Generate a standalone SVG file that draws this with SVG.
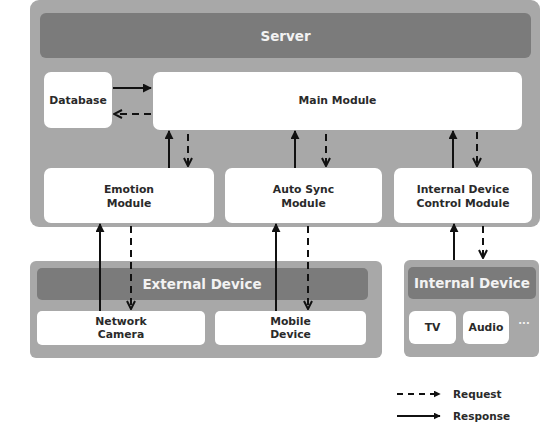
<svg xmlns="http://www.w3.org/2000/svg" width="542" height="442" viewBox="0 0 542 442">
<style>
.outer{fill:#a8a8a8;}
.head{fill:#7b7b7b;}
.box{fill:#ffffff;}
.ht{font-family:"DejaVu Sans",sans-serif;font-weight:bold;fill:#f2f2f2;text-anchor:middle;}
.t{font-family:"DejaVu Sans",sans-serif;font-weight:bold;font-size:10.8px;fill:#2a2a2a;text-anchor:middle;}
.lt{font-family:"DejaVu Sans",sans-serif;font-weight:bold;font-size:10.5px;fill:#2a2a2a;}
.sol{stroke:#111;stroke-width:2;fill:none;marker-end:url(#fh);}
.dsh{stroke:#111;stroke-width:2;fill:none;stroke-dasharray:7 5;marker-end:url(#oh);}
</style>
<defs>
<marker id="fh" viewBox="0 0 10 10" refX="9" refY="5" markerWidth="4.5" markerHeight="4.5" orient="auto" markerUnits="strokeWidth">
<path d="M0,0 L10,5 L0,10 z" fill="#111"/>
</marker>
<marker id="oh" viewBox="0 0 10 10" refX="9" refY="5" markerWidth="5" markerHeight="5" orient="auto" markerUnits="strokeWidth">
<path d="M1,1 L9,5 L1,9" fill="none" stroke="#111" stroke-width="2"/>
</marker>
<marker id="fh2" viewBox="0 0 10 10" refX="9" refY="5" markerWidth="3.5" markerHeight="3.5" orient="auto" markerUnits="strokeWidth">
<path d="M0,0 L10,5 L0,10 z" fill="#111"/>
</marker>
</defs>
<rect width="542" height="442" fill="#ffffff"/>

<g id="server">
<rect class="outer" x="30" y="0" width="510" height="227" rx="9"/>
<rect class="head" x="40" y="13" width="491" height="45" rx="6"/>
<text class="ht" x="285.5" y="40.5" font-size="13.5">Server</text>
</g>
<g id="database">
<rect class="box" x="44" y="72" width="68" height="56" rx="7"/>
<text class="t" x="78" y="104">Database</text>
</g>
<g id="main-module">
<rect class="box" x="153" y="72" width="369" height="58" rx="7"/>
<text class="t" x="337.5" y="104">Main Module</text>
</g>
<g id="emotion-module">
<rect class="box" x="44" y="168" width="170" height="55" rx="7"/>
<text class="t" x="129" y="193">Emotion</text>
<text class="t" x="129" y="207">Module</text>
</g>
<g id="auto-sync-module">
<rect class="box" x="225" y="168" width="157" height="55" rx="7"/>
<text class="t" x="303.5" y="193">Auto Sync</text>
<text class="t" x="303.5" y="207">Module</text>
</g>
<g id="internal-device-control-module">
<rect class="box" x="394" y="168" width="138" height="55" rx="7"/>
<text class="t" x="463" y="193">Internal Device</text>
<text class="t" x="463" y="207">Control Module</text>
</g>

<g id="external-device">
<rect class="outer" x="30" y="261" width="352" height="97" rx="6"/>
<rect class="head" x="37" y="268" width="331" height="32" rx="5"/>
<text class="ht" x="202" y="289" font-size="13.5">External Device</text>
</g>
<g id="network-camera">
<rect class="box" x="37" y="311" width="168" height="34" rx="5"/>
<text class="t" x="121" y="325">Network</text>
<text class="t" x="121" y="338">Camera</text>
</g>
<g id="mobile-device">
<rect class="box" x="215" y="311" width="151" height="34" rx="5"/>
<text class="t" x="290.5" y="325">Mobile</text>
<text class="t" x="290.5" y="338">Device</text>
</g>

<g id="internal-device">
<rect class="outer" x="404" y="260" width="135" height="97" rx="6"/>
<rect class="head" x="408" y="267" width="128" height="32" rx="5"/>
<text class="ht" x="472" y="288" font-size="13.5">Internal Device</text>
</g>
<g id="tv">
<rect class="box" x="409" y="311" width="47" height="33" rx="6"/>
<text class="t" x="432.5" y="331">TV</text>
</g>
<g id="audio">
<rect class="box" x="463" y="311" width="46" height="33" rx="6"/>
<text class="t" x="486" y="331">Audio</text>
</g>
<g id="more">
<text x="524" y="327" font-family="DejaVu Sans, sans-serif" font-weight="bold" font-size="10px" fill="#f4f4f4" text-anchor="middle">···</text>
</g>

<g id="connectors">
<line class="sol" x1="113" y1="88" x2="151" y2="88"/>
<line class="dsh" x1="151" y1="114" x2="114" y2="114"/>

<line class="sol" x1="169" y1="168" x2="169" y2="131"/>
<line class="dsh" x1="188" y1="134" x2="188" y2="166"/>
<line class="sol" x1="295" y1="168" x2="295" y2="131"/>
<line class="dsh" x1="326" y1="134" x2="326" y2="166"/>
<line class="sol" x1="453" y1="168" x2="453" y2="131"/>
<line class="dsh" x1="477" y1="132" x2="477" y2="166"/>

<line class="sol" x1="100" y1="311" x2="100" y2="224"/>
<line class="dsh" x1="131" y1="226" x2="131" y2="309"/>
<line class="sol" x1="276" y1="311" x2="276" y2="224"/>
<line class="dsh" x1="308" y1="226" x2="308" y2="309"/>
<line class="sol" x1="454" y1="260" x2="454" y2="224"/>
<line class="dsh" x1="483" y1="226" x2="483" y2="258"/>
</g>

<g id="legend">
<line x1="397" y1="394" x2="440" y2="394" stroke="#111" stroke-width="2" stroke-dasharray="6 5" marker-end="url(#fh2)"/>
<text class="lt" x="453" y="398">Request</text>
<line x1="397" y1="416" x2="440" y2="416" stroke="#111" stroke-width="2" marker-end="url(#fh2)"/>
<text class="lt" x="453" y="420">Response</text>
</g>
</svg>
